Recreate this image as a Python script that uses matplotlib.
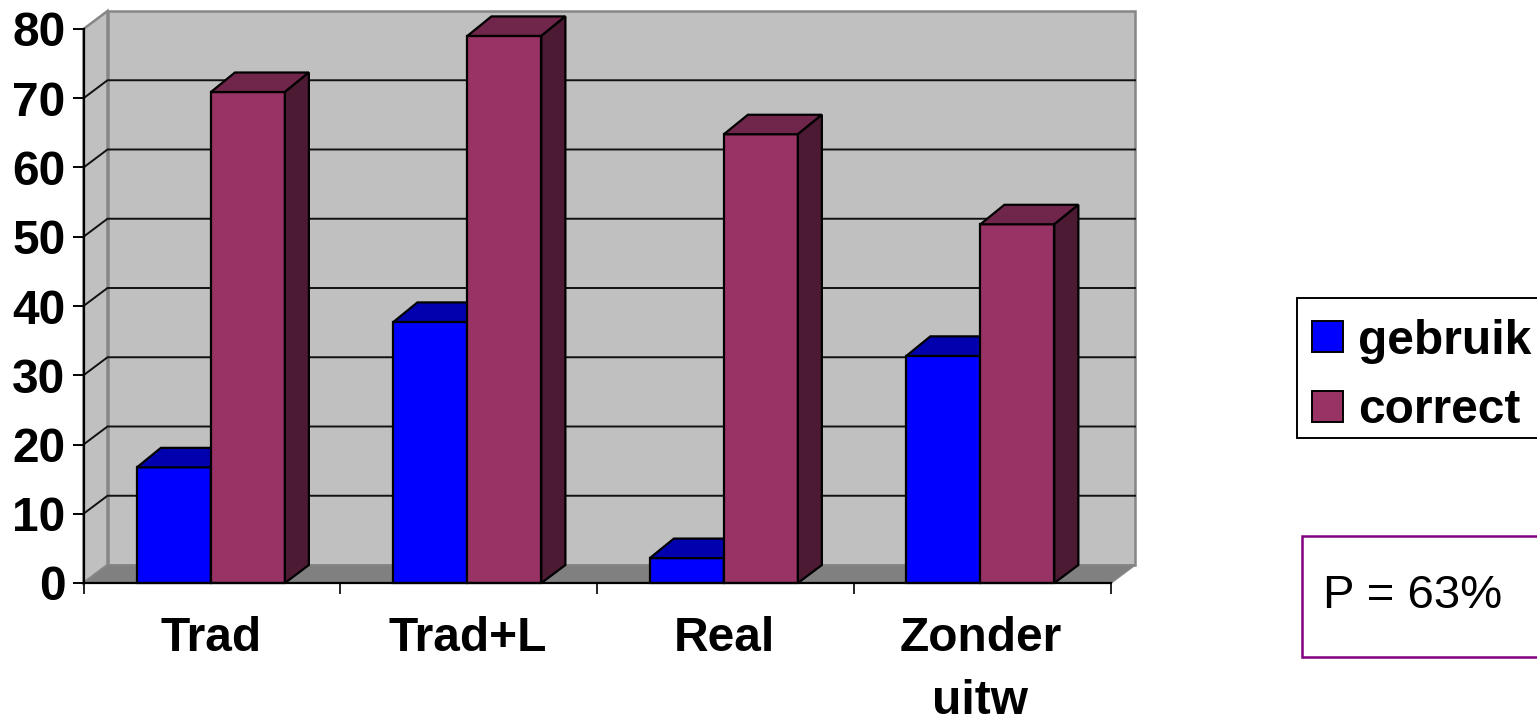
"""Grouped pseudo-3D bar chart of gebruik / correct per method."""

import matplotlib
matplotlib.use("Agg")
import matplotlib.pyplot as plt
from matplotlib.patches import Polygon, Rectangle

categories = ["Trad", "Trad+L", "Real", "Zonder\nuitw"]
gebruik = [16.7, 37.7, 3.6, 32.8]
correct = [70.9, 79.0, 64.8, 51.8]
y_ticks = [0, 10, 20, 30, 40, 50, 60, 70, 80]
series_names = ["gebruik", "correct"]
note = "P = 63%"

W, H = 1537, 716
AX_L, AX_R, AX_T, AX_B = 83.5, 1111, 29, 583

BLUE = ("#0000FF", "#0000AE", "#000080")
PLUM = ("#993366", "#70264B", "#4D1A33")
WALL = "#C0C0C0"
FLOOR = "#808080"
WALL_EDGE = "#868686"
LW = 1.6

plt.rcParams["font.family"] = ["Liberation Sans", "DejaVu Sans"]

fig = plt.figure(figsize=(W / 100, H / 100), dpi=100, facecolor="white")
ax = fig.add_axes([AX_L / W, 1 - AX_B / H, (AX_R - AX_L) / W, (AX_B - AX_T) / H])
ax.set_xlim(0, len(categories))
ax.set_ylim(0, 80)
ax.patch.set_visible(False)

# depth of the fake 3D box, in data units
DX = 24 / ((AX_R - AX_L) / len(categories))
DY = 18 / ((AX_B - AX_T) / 80)
DY_TOP = 19.5 / ((AX_B - AX_T) / 80)
BAR_W = 0.288
n = len(categories)
centers = [0.496 + i * 0.9985 for i in range(n)]


def poly(pts, fc, ec="black", lw=LW, z=3):
    ax.add_patch(Polygon(pts, closed=True, facecolor=fc, edgecolor=ec,
                         linewidth=lw, zorder=z, clip_on=False, joinstyle="miter"))


# walls and floor
poly([(0, 0), (DX, DY), (DX, 80 + DY), (0, 80)], WALL, WALL_EDGE, 1.8, 1)
poly([(DX, DY), (n + DX, DY), (n + DX, 80 + DY), (DX, 80 + DY)], WALL, WALL_EDGE, 1.8, 1)
poly([(0, 0), (n, 0), (n + DX, DY), (DX, DY)], FLOOR, WALL_EDGE, 1.2, 1)

# gridlines run along the back wall and down the side wall
for t in y_ticks[1:-1]:
    ax.plot([0, DX, n + DX], [t, t + DY, t + DY], color="#111111", lw=1.4,
            zorder=2, clip_on=False, solid_joinstyle="miter")


def box(x0, value, colors, z):
    x1 = x0 + BAR_W
    ax.bar(x0, value, width=BAR_W, align="edge", facecolor=colors[0],
           edgecolor="black", linewidth=LW, zorder=z, clip_on=False)
    poly([(x0, value), (x1, value), (x1 + DX, value + DY_TOP), (x0 + DX, value + DY_TOP)],
         colors[1], z=z)
    poly([(x1, 0), (x1 + DX, DY), (x1 + DX, value + DY_TOP), (x1, value)], colors[2], z=z)


for i in range(n):
    box(centers[i] - BAR_W, gebruik[i], BLUE, 3 + i * 2)
    box(centers[i], correct[i], PLUM, 4 + i * 2)

# axes
for side in ("top", "right"):
    ax.spines[side].set_visible(False)
for side in ("left", "bottom"):
    ax.spines[side].set_linewidth(LW)
    ax.spines[side].set_zorder(20)
ax.set_yticks(y_ticks)
ax.set_yticklabels([str(t) for t in y_ticks], fontsize=34.5, fontweight="bold")
ax.tick_params(axis="y", length=8, width=1.4, pad=5)
ax.set_xticks(range(n + 1))
ax.set_xticklabels([])
ax.tick_params(axis="x", which="major", length=8, width=1.2)
ax.set_xticks(centers, minor=True)
ax.set_xticklabels(categories, minor=True, fontsize=34.5, fontweight="bold",
                   linespacing=1.5)
ax.tick_params(axis="x", which="minor", length=0, pad=24)

# legend and note live in figure pixels
over = fig.add_axes([0, 0, 1, 1], zorder=30)
over.set_xlim(0, W)
over.set_ylim(H, 0)
over.axis("off")
over.add_patch(Rectangle((1296.5, 297.5), 260, 140, facecolor="white",
                         edgecolor="black", linewidth=1.4))
for y0, base, name, colors in zip((321, 391), (354, 423), series_names, (BLUE, PLUM)):
    over.add_patch(Rectangle((1312, y0), 31, 31, facecolor=colors[0],
                             edgecolor="black", linewidth=1.4))
    over.text(1358, base, name, fontsize=34.5, fontweight="bold",
              ha="left", va="baseline")
over.add_patch(Rectangle((1301.5, 536), 260, 121, facecolor="white",
                         edgecolor="#800080", linewidth=1.8))
over.text(1323, 608, note, fontsize=34, ha="left", va="baseline")

fig.savefig("out.png", dpi=100, facecolor="white")
